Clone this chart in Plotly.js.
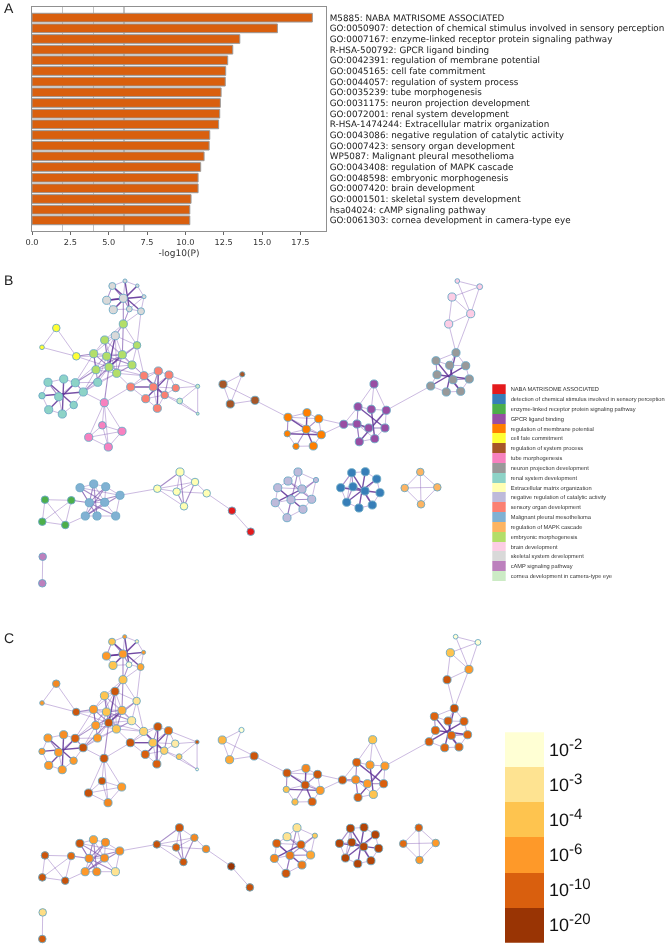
<!DOCTYPE html>
<html><head><meta charset="utf-8">
<script src="https://cdn.plot.ly/plotly-3.0.1.min.js"></script>
<style>html,body{margin:0;padding:0;background:#fff}#c{width:665px;height:945px;filter:blur(0.3px)}svg text{text-rendering:geometricPrecision}</style>
</head><body><div id="c"></div>
<script>
// Panel A
const termLabels = [
"M5885: NABA MATRISOME ASSOCIATED",
"GO:0050907: detection of chemical stimulus involved in sensory perception",
"GO:0007167: enzyme-linked receptor protein signaling pathway",
"R-HSA-500792: GPCR ligand binding",
"GO:0042391: regulation of membrane potential",
"GO:0045165: cell fate commitment",
"GO:0044057: regulation of system process",
"GO:0035239: tube morphogenesis",
"GO:0031175: neuron projection development",
"GO:0072001: renal system development",
"R-HSA-1474244: Extracellular matrix organization",
"GO:0043086: negative regulation of catalytic activity",
"GO:0007423: sensory organ development",
"WP5087: Malignant pleural mesothelioma",
"GO:0043408: regulation of MAPK cascade",
"GO:0048598: embryonic morphogenesis",
"GO:0007420: brain development",
"GO:0001501: skeletal system development",
"hsa04024: cAMP signaling pathway",
"GO:0061303: cornea development in camera-type eye"];
const termValues = [18.28,16.0,13.55,13.09,12.76,12.63,12.6,12.33,12.28,12.24,12.17,11.59,11.55,11.22,11.0,10.83,10.83,10.37,10.29,10.29];

// Panel B legend
const clusterNames = ["NABA MATRISOME ASSOCIATED","detection of chemical stimulus involved in sensory perception","enzyme-linked receptor protein signaling pathway","GPCR ligand binding","regulation of membrane potential","cell fate commitment","regulation of system process","tube morphogenesis","neuron projection development","renal system development","Extracellular matrix organization","negative regulation of catalytic activity","sensory organ development","Malignant pleural mesothelioma","regulation of MAPK cascade","embryonic morphogenesis","brain development","skeletal system development","cAMP signaling pathway","cornea development in camera-type eye"];
const clusterColors = ["#e41a1c","#377eb8","#4daf4a","#984ea3","#ff7f00","#ffff33","#a65628","#f781bf","#999999","#8dd3c7","#ffffb3","#bebada","#fb8072","#80b1d3","#fdb462","#b3de69","#fccde5","#d9d9d9","#bc80bd","#ccebc5"];

// Panel C colour key
const keyExponents = ["-2","-3","-4","-6","-10","-20"];
const keyColors = ["#ffffd4","#fee391","#fec44f","#fe9929","#d95f0e","#993404"];
const keyLabels = keyExponents.map(e=>'10<sup><span style="font-size:15px">'+e+'</span></sup>');

// Network nodes
const nodeCluster = [0,0, 1,1,1,1,1,1,1,1,1,1, 2,2,2,2, 3,3,3,3,3,3,3,3,3,3, 4,4,4,4,4,4,4,4, 5,5,5, 6,6,6,6, 7,7,7,7,7, 8,8,8,8,8,8,8,8,8,8, 9,9,9,9,9,9,9,9,9,9, 10,10,10,10,10,10, 11,11,11,11,11,11,11,11,11,11, 12,12,12,12,12,12,12,12,12, 13,13,13,13,13,13,13,13,13, 14,14,14,14, 15,15,15,15,15,15,15,15,15,15, 16,16,16,16,16, 17,17,17,17,17,17,17,17,17,17, 18,18, 19,19,19];
const nodeX = [232,250.7, 351.7,365.3,376.7,340.7,353,365,380,346.7,372.3,359, 45,71.3,42.3,65.3, 374,358,371.3,386.3,343.7,357,368.7,385,374.7,359.3, 288,307,318.7,306.3,287.3,321.3,296,313.3, 56.3,42,76.3, 242.3,223,255,230.3, 104.3,102.3,122,88.7,108.3, 456,436,449.7,465.7,437,469.3,453,430.7,446.3,460.7, 48,63.7,75.3,97.7,83.3,42,58.7,73.7,48.7,62.3, 157.3,180,195,176.7,206.7,184, 298,316,288,277.7,302,275.3,291,311.7,303,287, 144,158.3,169,130.7,153.3,175.7,164.7,145.7,157.3, 80,93.7,105.7,120,89.3,104.7,85.3,97,115.7, 420.3,404.7,437.3,421, 123.3,104.7,137,93.7,106.7,122.3,132,109,96,116.7, 457.3,479.7,452,470.7,448.7, 112.3,125,137.3,144,123.3,106.7,129.3,113.3,141,115.3, 42.7,42.3, 197.7,179.7,197.7];
const nodeY = [510.7,531.7, 472.7,471.7,479,487.7,486.7,491,492.7,502.3,505,508, 499.7,500.3,521.7,525, 384,406.7,409.3,410.3,424.3,424,428,428,438.7,441.7, 417.3,412.7,418.7,429.3,433.7,434.7,446.3,446, 328,347.3,356.3, 374.3,384.3,400.3,404, 402.7,425.3,431.3,437.3,447, 352.7,360.7,365.3,365.7,374.7,379,379.7,386,392,391.3, 382.3,379,382.7,382.3,392,395.7,396.7,405,409.7,414, 488.7,472,482,491.7,493.3,506.3, 472,480,481,487.7,489,502.7,499.7,499.3,509.3,517.7, 375.7,371,375,387,387,388,395,398.7,408.3, 487.7,484,486.7,495.3,502.7,502.3,516,516,516, 472,488,487.3,504.3, 324,340,345.3,353.7,356.3,354.7,365,367,369.7,373.3, 281,286.7,297,313.7,324, 286,281,285.7,296.7,298.3,300.3,309,309.7,311.3,335.7, 556.7,583.3, 386.3,401,413.7];
const nodeSize = [6.5,6.5, 7,7,7,7,7,7,7,7,7,7, 6.5,6.5,6.5,6.5, 7,7,7,7,7,7,7,7,7,7, 7,7,7,7,5.5,7,5.5,7, 6.5,4,6.5, 4.5,7,7,7, 7,6.5,7,7,7, 7,7,7,7,7,7,7,7,7,7, 7,7,7,7,7,5.5,7,6.5,7,7, 6.5,7,6.5,6.5,6.5,6.5, 7,4.5,7,7,7,7,7,7,7,7, 7,7,7,7,7,6.5,6.5,7,7, 7,7,7,7,7,7,7,7,7, 6.5,6.5,6.5,6.5, 7,7,6.5,7,7,7,7,7,7,7, 4,5,7,7,7, 6,3.5,3,3.5,7,7,5,7,6,7, 6.5,6.5, 3.5,5,2.5];
const nodeLevel = [5,4.3, 4.6,4.6,4.6,4.6,4.6,4.6,4.6,4.6,4.6,4.6, 4.2,3.8,4.2,4.3, 2,4,3,3,4.2,3.2,3,4,2,4, 4.2,3.3,4.2,4.2,2,3,2.2,4, 3.3,3,4.2, 0,2.3,4.2,2.6, 4.2,4.2,3,4.3,3.3, 4.3,3.9,4.1,4,3.9,3.9,3.9,4,3.9,3.9, 3,3.2,4,3,4.3,3,3,3,3,3, 4.3,4.2,3.3,4,3.3,4.2, 1,1.8,1,4,4,3.3,3.5,2.7,3.5,4.2, 1.5,4.2,3.8,4.2,2,0.7,1.6,4,4, 4.2,2.8,3.2,3.2,3.2,3.2,3,3.2,1, 4,3.8,3,3, 2,2,1,3,2,2.5,0.8,4.2,3,2, 0,0,2,3,4.2, 2,3,0.5,3,3,3,0,2,2.7,4.2, 1.2,4.1, 4.2,1.8,0];

// Network edges: flat lists of node index pairs
const edgesStrong = [2,10,3,11,4,9,5,8,6,7, 17,23,19,25,18,24,21,22, 27,29,29,33,30,31,26,29, 46,54,47,55,49,53,50,51,48,52, 61,60,56,63,64,58,57,65, 75,80,77,76, 85,86,84,89,83,90,82,88, 119,127,120,125,121,126,122,124,123,124, 111,109,128,111];
const edgesMedium = [81,72,91,96,91,98,92,98,92,95,93,97,93,95,94,97,95,99,96,97,94,95,13,95, 66,67,67,71,68,71,69,71, 123,104,104,128, 105,111,106,111,107,113,108,109,108,110,109,113,112,109,36,107,58,112,60,111,41,111,110,113,107,112,104,109, 78,73,74,79,78,79, 86,88,84,88,83,86, 2,5,2,6,6,9, 20,21,21,25,17,21,22,23, 26,30,28,29,31,29,32,29, 52,55,52,51,47,50, 56,62,58,60, 123,125,123,119];
const edgesLight = [0,1,70,0, 2,3,3,4,4,8,8,10,10,11,11,9,9,5,5,6,2,9,7,10,4,7, 12,13,12,14,12,15,13,14,13,15,14,15,15,97, 16,17,16,18,16,19,17,18,18,19,19,23,23,24,24,25,25,21,21,20,17,20,20,22,19,22,21,24,20,28,20,31,19,53, 26,27,27,28,28,31,31,33,33,32,32,30,26,28,26,31,30,29,26,39, 34,35,34,36,35,36, 37,38,37,40,38,40,38,39,39,40, 41,42,41,43,41,44,41,45,42,43,42,44,43,44,43,45,44,45,42,45,41,60,41,85, 46,47,46,49,47,48,48,49,49,51,51,55,55,54,54,53,53,50,46,48,52,48,51,50,118,46,117,46, 56,57,57,58,58,59,60,59,60,63,63,65,65,64,64,61,61,56,62,58,62,65,59,112,59,113,59,111,58,107,60,113, 66,69,66,71,67,68,67,69,68,69,69,70,68,70,66,68,66,94, 72,73,72,74,72,76,73,76,73,79,74,75,74,76,75,77,75,78,76,79,77,81,77,78,78,81,79,80,80,81,75,76, 82,83,83,84,84,87,87,88,88,90,90,89,89,85,85,82,82,86,83,85,84,86,86,87,86,90,89,88,82,110,82,113,84,131,88,132,88,133,87,131, 131,132,131,133,132,133, 91,92,92,93,93,94,94,99,99,98,98,97,97,95,91,95,96,99,91,94,92,96,95,96,93,96, 100,101,100,102,100,103,101,102,101,103,102,103, 104,106,105,107,105,108,105,109,106,110,106,109,107,108,107,112,108,111,109,110,110,111,112,113,111,112,111,113,113,128,106,128,107,128,109,128,104,125, 114,115,114,117,115,116,115,117,116,117,116,118,117,118, 119,120,120,121,121,122,122,127,127,125,125,126,126,124,124,119,119,123,120,123,121,123,122,123,123,126,119,124,122,125, 129,130, 59,107,59,108,60,112,58,108,105,113,105,110,107,109,108,113,112,128,36,111,36,108,82,111,82,109,85,113,106,82,128,105,104,105,125,104,127,104,127,106];

// ---- build ----
function edgeCoords(list){
  const x=[],y=[];
  for(let i=0;i<list.length;i+=2){
    x.push(nodeX[list[i]],nodeX[list[i+1]],null);
    y.push(nodeY[list[i]],nodeY[list[i+1]],null);
  }
  return {x,y};
}
const edgeStyles = [
  {list:edgesLight, color:"rgba(130,90,180,0.42)", width:1},
  {list:edgesMedium,color:"rgba(120,80,170,0.65)", width:1.1},
  {list:edgesStrong,color:"rgba(95,50,150,0.85)", width:1.4}
];
const traces=[];
// A
traces.push({type:"bar",orientation:"h",x:termValues,y:termLabels,xaxis:"x",yaxis:"y",width:0.82,
  marker:{color:"#d95f0e",line:{color:"#999999",width:1}},hoverinfo:"x+y"});
// B and C networks
[["x2","y2"],["x3","y3"]].forEach(function(ax,p){
  edgeStyles.forEach(function(s){
    const c=edgeCoords(s.list);
    traces.push({type:"scatter",mode:"lines",x:c.x,y:c.y,xaxis:ax[0],yaxis:ax[1],line:{color:s.color,width:s.width},hoverinfo:"skip"});
  });
  traces.push({type:"scatter",mode:"markers",x:nodeX,y:nodeY,xaxis:ax[0],yaxis:ax[1],hoverinfo:"skip",
    marker: p===0 ?
      {size:nodeSize,sizemode:"diameter",sizeref:0.86,opacity:1,color:nodeCluster.map(c=>clusterColors[c]),line:{color:"#6aa8c4",width:0.9}} :
      {size:nodeSize,sizemode:"diameter",sizeref:0.86,opacity:1,color:nodeLevel,cmin:0,cmax:5,colorscale:keyColors.map((c,i)=>[i/5,c]),showscale:false,line:{color:"#6aa8c4",width:0.9}}
  });
});
// legend
traces.push({type:"bar",orientation:"h",x:clusterNames.map(()=>1),y:clusterNames,xaxis:"x4",yaxis:"y4",width:1,marker:{color:clusterColors,line:{width:0}},hoverinfo:"y"});
// key
traces.push({type:"bar",orientation:"h",x:keyLabels.map(()=>1),y:keyLabels,xaxis:"x5",yaxis:"y5",width:1,marker:{color:keyColors,line:{width:0}},hoverinfo:"y"});

const W=665,H=945;
const dx=(a,b)=>[a/W,b/W], dy=(top,bot)=>[1-bot/H,1-top/H];
const hidden={showgrid:false,zeroline:false,showticklabels:false,ticks:"",showline:false};
const layout={
  width:W,height:H,margin:{l:0,r:0,t:0,b:0},paper_bgcolor:"#fff",plot_bgcolor:"rgba(0,0,0,0)",showlegend:false,bargap:0,
  font:{family:"DejaVu Sans",color:"#262626"},
  xaxis:{domain:dx(32,326),range:[0,19.17],tickvals:[0,2.5,5,7.5,10,12.5,15,17.5],ticktext:["0.0","2.5","5.0","7.5","10.0","12.5","15.0","17.5"],
    ticks:"outside",ticklen:3,tickwidth:1,tickcolor:"#666",tickfont:{size:8.2,color:"#333"},showgrid:false,zeroline:false,
    showline:true,mirror:true,linecolor:"#909090",linewidth:1,anchor:"y",
    minor:{tickvals:[2,4,6],showgrid:true,gridcolor:"#c4c4c4",gridwidth:1.4,ticks:""},
    title:{text:"-log10(P)",font:{size:9,color:"#333"},standoff:3}},
  yaxis:{domain:dy(7,231),type:"category",categoryorder:"array",categoryarray:termLabels,range:[20.0,-1.0],side:"right",anchor:"x",
    tickmode:"array",tickvals:termLabels,ticktext:termLabels,
    ticks:"",tickfont:{size:8.8,color:"#222"},showgrid:false,zeroline:false,showline:true,mirror:true,linecolor:"#909090",linewidth:1,ticklabelstandoff:1},
  xaxis2:Object.assign({domain:dx(0,490),range:[0,490],anchor:"y2"},hidden),
  yaxis2:Object.assign({domain:dy(270,600),range:[600,270],anchor:"x2"},hidden),
  xaxis3:Object.assign({domain:dx(0,490),range:[-0.17,491.8],anchor:"y3"},hidden),
  yaxis3:Object.assign({domain:dy(625,945),range:[589.3,269.3],anchor:"x3"},hidden),
  xaxis4:Object.assign({domain:dx(492.3,505.7),range:[0,1],anchor:"y4"},hidden),
  yaxis4:{domain:dy(384.3,581),type:"category",categoryorder:"array",categoryarray:clusterNames,range:[19.5,-0.5],side:"right",anchor:"x4",
    tickmode:"array",tickvals:clusterNames,ticktext:clusterNames,
    ticks:"",tickfont:{family:"Liberation Sans",size:5.7,color:"#333"},showgrid:false,zeroline:false,showline:false,ticklabelstandoff:4},
  xaxis5:Object.assign({domain:dx(505,544),range:[0,1],anchor:"y5"},hidden),
  yaxis5:{domain:dy(732.3,942.7),type:"category",categoryorder:"array",categoryarray:keyLabels,range:[5.5,-0.5],side:"right",anchor:"x5",
    tickmode:"array",tickvals:keyLabels,ticktext:keyLabels,
    ticks:"",tickfont:{family:"Liberation Sans",size:18,color:"#111"},showgrid:false,zeroline:false,showline:false,ticklabelstandoff:4},
  annotations:[["A",8],["B",280],["C",638]].map(a=>({text:a[0],xref:"paper",yref:"paper",x:2/W,y:1-a[1]/H,xanchor:"left",yanchor:"middle",showarrow:false,font:{family:"Liberation Sans",size:14,color:"#222"}}))
};
Plotly.newPlot("c",traces,layout,{displayModeBar:false,staticPlot:true});
</script></body></html>
